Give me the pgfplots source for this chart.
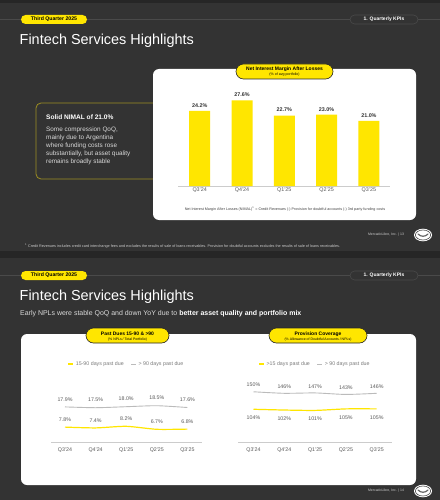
\documentclass[border=0pt]{standalone}
\usepackage{pgfplots}
\pgfplotsset{compat=1.18}
\usepackage{fontspec}
\setmainfont{Liberation Sans}
\definecolor{bg}{HTML}{333333}
\definecolor{bgdark}{HTML}{262626}
\definecolor{ylw}{HTML}{FFE600}
\definecolor{hline}{HTML}{4A4A4A}
\definecolor{olive}{HTML}{9C8E22}
\definecolor{txtgray}{HTML}{5A5A5A}
\definecolor{serGray}{HTML}{BBBBBB}
\definecolor{axgray}{HTML}{CCCCCC}
\newcommand\fs[2]{\fontsize{#1}{#2}\selectfont}
\pgfplotsset{/pgf/number format/assume math mode=true}
\begin{document}
\begin{tikzpicture}[x=1bp,y=1bp]
\useasboundingbox (0,0) rectangle (440,-500);
\fill[bg] (0,0) rectangle (440,-500);
\fill[bgdark] (0,0) rectangle (440,-3);
\fill[bgdark] (0,-251) rectangle (440,-258);
% ---------------- Slide 1 ----------------
\draw[hline, line width=0.6bp] (0,-19.5) -- (440,-19.5);
\node[fill=ylw, rounded corners=4.5bp, minimum width=66bp, minimum height=9bp, inner sep=0pt, text=black] at (54,-19.5) {\fs{5.2}{6}\bfseries Third Quarter 2025};
\node[fill=bg, draw=hline, line width=0.6bp, rounded corners=4.5bp, minimum width=68bp, minimum height=9bp, inner sep=0pt, text=white] at (384,-19.5) {\fs{5}{6}\bfseries 1. Quarterly KPIs};
\node[anchor=base west, inner sep=0pt, text=white] at (19.5,-44.5) {\fs{14.5}{16}Fintech Services Highlights};
% left text box
\draw[olive, line width=0.8bp, rounded corners=5bp] (36,-103) rectangle (175,-179);
\node[anchor=base west, inner sep=0pt, text=white] at (46,-120) {\fs{6.6}{8}\bfseries Solid NIMAL of 21.0\%};
\node[anchor=base west, inner sep=0pt, text=white!85!black] at (46,-131.3) {\fs{6.4}{8}Some compression QoQ,};
\node[anchor=base west, inner sep=0pt, text=white!85!black] at (46,-139.3) {\fs{6.4}{8}mainly due to Argentina};
\node[anchor=base west, inner sep=0pt, text=white!85!black] at (46,-147.3) {\fs{6.4}{8}where funding costs rose};
\node[anchor=base west, inner sep=0pt, text=white!85!black] at (46,-155.3) {\fs{6.4}{8}substantially, but asset quality};
\node[anchor=base west, inner sep=0pt, text=white!85!black] at (46,-163.3) {\fs{6.4}{8}remains broadly stable};
% white panel
\fill[white, rounded corners=6bp] (153,-69) rectangle (416,-220);
\draw[fill=ylw, draw=black!85, line width=0.6bp, rounded corners=7.5bp] (236,-64) rectangle (333,-79);
\node[anchor=base, inner sep=0pt, text=black] at (284.5,-70.5) {\fs{5}{6}\bfseries Net Interest Margin After Losses};
\node[anchor=base, inner sep=0pt, text=black] at (284.5,-76) {\fs{3.6}{4}(\% of avg portfolio)};
\begin{axis}[
  at={(178bp,-186bp)}, anchor=south west,
  scale only axis, width=212bp, height=90bp,
  xmin=-0.513, xmax=4.499, ymin=0, ymax=29.03,
  enlargelimits=false, clip=false,
  axis x line*=bottom, axis y line=none,
  x axis line style={axgray, line width=1bp, -},
  xtick={0,1,2,3,4},
  xticklabels={Q3'24,Q4'24,Q1'25,Q2'25,Q3'25},
  major tick length=0pt,
  xticklabel style={font=\fs{5.4}{6}, text=txtgray, anchor=center, yshift=-4.5bp},
  ytick=\empty,
  ybar, bar width=21bp,
  nodes near coords={\pgfmathprintnumber[fixed,fixed zerofill,precision=1]{\pgfplotspointmeta}\%},
  every node near coord/.append style={font=\fs{5.4}{6}\bfseries, text=black!80, anchor=center, yshift=5.5bp},
]
\addplot[fill=ylw, draw=none] coordinates {(0,24.2) (1,27.6) (2,22.7) (3,23.0) (4,21.0)};
\end{axis}
\node[anchor=base, inner sep=0pt, text=black!75] at (285,-210.3) {\fs{3.7}{4}Net Interest Margin After Losses (NIMAL)\textsuperscript{1} = Credit Revenues (-) Provision for doubtful accounts (-) 3rd party funding costs};
% footer slide1
\node[inner sep=0pt, text=white!80!black] at (386,-235) {\fs{3.5}{4}MercadoLibre, Inc. | 13};
\fill[white] (423,-235) ellipse [x radius=9bp, y radius=6.3bp];
\draw[black!70, line width=0.6bp] (423,-235) ellipse [x radius=7.6bp, y radius=5bp];
\draw[black!60, line width=1.2bp, line cap=round] (418,-234) .. controls (421,-237) and (425,-237) .. (428,-234);
\node[anchor=base west, inner sep=0pt, text=white!80!black] at (25,-247.3) {\fs{3.75}{4}\textsuperscript{1} Credit Revenues includes credit card interchange fees and excludes the results of sale of loans receivables. Provision for doubtful accounts excludes the results of sale of loans receivables.};
% ---------------- Slide 2 ----------------
\draw[hline, line width=0.6bp] (0,-275.7) -- (440,-275.7);
\node[fill=ylw, rounded corners=4.5bp, minimum width=66bp, minimum height=9bp, inner sep=0pt, text=black] at (54,-275.5) {\fs{5.2}{6}\bfseries Third Quarter 2025};
\node[fill=bg, draw=hline, line width=0.6bp, rounded corners=4.5bp, minimum width=68bp, minimum height=9bp, inner sep=0pt, text=white] at (384,-275.5) {\fs{5}{6}\bfseries 1. Quarterly KPIs};
\node[anchor=base west, inner sep=0pt, text=white] at (19.5,-300) {\fs{14.5}{16}Fintech Services Highlights};
\node[anchor=base west, inner sep=0pt, text=white!85!black] at (20,-315) {\fs{7}{8}Early NPLs were stable QoQ and down YoY due to \textcolor{white}{\bfseries better asset quality and portfolio mix}};
\fill[white, rounded corners=6bp] (21,-334) rectangle (416,-485);
\draw[fill=ylw, draw=black!85, line width=0.6bp, rounded corners=7.5bp] (86,-328) rectangle (169,-343);
\node[anchor=base, inner sep=0pt, text=black] at (127.5,-335) {\fs{5}{6}\bfseries Past Dues 15-90 \& >90};
\node[anchor=base, inner sep=0pt, text=black] at (127.5,-340.3) {\fs{3.5}{4}(\% NPLs / Total Portfolio)};
\draw[fill=ylw, draw=black!85, line width=0.6bp, rounded corners=7.5bp] (269,-328) rectangle (367,-343);
\node[anchor=base, inner sep=0pt, text=black] at (318,-335) {\fs{5}{6}\bfseries Provision Coverage};
\node[anchor=base, inner sep=0pt, text=black] at (318,-340.3) {\fs{3.5}{4}(\% Allowance of Doubtful Accounts / NPLs)};
\pgfplotsset{
  lineaxis/.style={
    scale only axis, enlargelimits=false, clip=false,
    axis x line*=bottom, axis y line=none,
    x axis line style={axgray, line width=1bp, -},
    xtick={0,1,2,3,4},
    xticklabels={Q3'24,Q4'24,Q1'25,Q2'25,Q3'25},
    major tick length=0pt,
    xticklabel style={font=\fs{5.3}{6}, text=txtgray, anchor=center, yshift=-7.3bp},
    ytick=\empty,
    legend columns=2,
    legend style={draw=none, fill=none, font=\fs{5.3}{6}, text=txtgray!80, anchor=center,
      /tikz/every even column/.append style={column sep=5bp}},
    legend image code/.code={\draw[##1] (0bp,0bp) -- (5bp,0bp);},
    nodes near coords={\pgfmathprintnumber[fixed,fixed zerofill,precision=1]{\pgfplotspointmeta}\%},
    every node near coord/.append style={font=\fs{5.3}{6}, text=txtgray, anchor=center},
  }
}
\begin{axis}[lineaxis,
  at={(51bp,-442.7bp)}, anchor=south west,
  width=151bp, height=50bp,
  xmin=-0.4575, xmax=4.477, ymin=0, ymax=25,
  legend style={at={(0.5,1.574)}},
]
\addplot[ylw, line width=1.2bp, smooth, tension=0.4,
  every node near coord/.append style={yshift=7.4bp}] coordinates {(0,7.8) (1,7.4) (2,8.2) (3,6.7) (4,6.8)};
\addlegendentry{15-90 days past due}
\addplot[serGray, line width=0.9bp, smooth, tension=0.4,
  every node near coord/.append style={yshift=7.7bp}] coordinates {(0,17.9) (1,17.5) (2,18.0) (3,18.5) (4,17.6)};
\addlegendentry{> 90 days past due}
\end{axis}
\begin{axis}[lineaxis,
  at={(238bp,-442.7bp)}, anchor=south west,
  width=154bp, height=54.72bp,
  xmin=-0.503, xmax=4.497, ymin=16, ymax=160,
  legend style={at={(0.5,1.4386)}},
  nodes near coords={\pgfmathprintnumber[fixed,precision=0]{\pgfplotspointmeta}\%},
]
\addplot[ylw, line width=1.2bp, smooth, tension=0.4,
  every node near coord/.append style={yshift=-8.7bp}] coordinates {(0,104) (1,102) (2,101) (3,105) (4,105)};
\addlegendentry{>15 days past due}
\addplot[serGray, line width=0.9bp, smooth, tension=0.4,
  every node near coord/.append style={yshift=6.7bp}] coordinates {(0,150) (1,146) (2,147) (3,143) (4,146)};
\addlegendentry{> 90 days past due}
\end{axis}
% footer slide2
\node[inner sep=0pt, text=white!80!black] at (386,-491) {\fs{3.5}{4}MercadoLibre, Inc. | 14};
\fill[white] (423,-491) ellipse [x radius=9bp, y radius=6.3bp];
\draw[black!70, line width=0.6bp] (423,-491) ellipse [x radius=7.6bp, y radius=5bp];
\draw[black!60, line width=1.2bp, line cap=round] (418,-490) .. controls (421,-493) and (425,-493) .. (428,-490);
\end{tikzpicture}
\end{document}
